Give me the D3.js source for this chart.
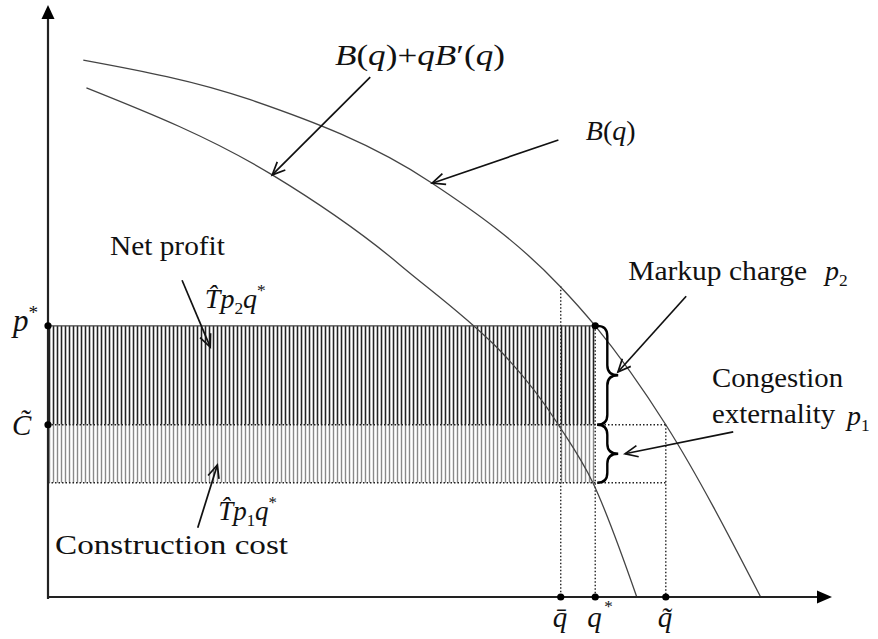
<!DOCTYPE html>
<html>
<head>
<meta charset="utf-8">
<script src="https://cdn.jsdelivr.net/npm/d3@7"></script>
<style>
body { margin: 0; background: #fff; }
text { font-family: "Liberation Serif", "Times New Roman", serif; fill: #111; }
.m { font-style: italic; }
</style>
</head>
<body>
<div id="chart"></div>
<script>
// curves: [q, price]
var bCurve = [[0.45, 9.07], [2.58, 8.40], [4.90, 6.99], [6.53, 5.25], [6.98, 4.58], [7.88, 2.91], [9.09, 0]]
var mrCurve = [[0.49, 8.60], [2.86, 7.13], [4.49, 5.61], [6.51, 2.91], [6.95, 1.93], [7.51, 0]]

// quantities on the q axis
var qLabels = ["q\u0304", "q", "q\u0303"]
var qValues = [6.54, 6.98, 7.88]
var qStar = 6.98, qBar = 6.54, qTilde = 7.88

// price levels
var pStar = 4.58, cTilde = 2.91, pLow = 1.93, bAtQBar = 5.25

var width = 878, height = 639

var svg = d3.select("#chart").append("svg")
    .attr("width", width)
    .attr("height", height)

var x = d3.scaleLinear().domain([0, 10]).range([48, 832])
var y = d3.scaleLinear().domain([0, 10]).range([597, 5])

var defs = svg.append("defs")
function hatch(id, color, w) {
    var p = defs.append("pattern")
        .attr("id", id)
        .attr("patternUnits", "userSpaceOnUse")
        .attr("x", x(0))
        .attr("width", 4)
        .attr("height", 10)
    p.append("line")
        .attr("x1", 1.5).attr("x2", 1.5)
        .attr("y1", 0).attr("y2", 10)
        .attr("stroke", color)
        .attr("stroke-width", w)
}
hatch("dark", "#222", 1.6)
hatch("light", "#8a8a8a", 1.4)

// hatched areas
svg.append("rect")
    .attr("x", x(0)).attr("y", y(pStar))
    .attr("width", x(qStar) - x(0))
    .attr("height", y(cTilde) - y(pStar))
    .attr("fill", "url(#dark)")
svg.append("rect")
    .attr("x", x(0)).attr("y", y(cTilde))
    .attr("width", x(qStar) - x(0))
    .attr("height", y(pLow) - y(cTilde))
    .attr("fill", "url(#light)")

// solid top edge
svg.append("line")
    .attr("x1", x(0)).attr("x2", x(qStar))
    .attr("y1", y(pStar)).attr("y2", y(pStar))
    .attr("stroke", "#444").attr("stroke-width", 1.4)

// dotted guides
function dotted(x1, y1, x2, y2) {
    svg.append("line")
        .attr("x1", x(x1)).attr("y1", y(y1))
        .attr("x2", x(x2)).attr("y2", y(y2))
        .attr("stroke", "#222")
        .attr("stroke-width", 1.4)
        .attr("stroke-dasharray", "1.5,2")
}
dotted(0, cTilde, qTilde, cTilde)
dotted(0, pLow, qTilde, pLow)
dotted(qBar, bAtQBar, qBar, 0)
dotted(qStar, pStar, qStar, 0)
dotted(qTilde, cTilde, qTilde, 0)

// curves
var line = d3.line()
    .x(d => x(d[0]))
    .y(d => y(d[1]))
    .curve(d3.curveMonotoneX)

svg.append("path").datum(bCurve)
    .attr("d", line)
    .attr("fill", "none").attr("stroke", "#444").attr("stroke-width", 1.3)
svg.append("path").datum(mrCurve)
    .attr("d", line)
    .attr("fill", "none").attr("stroke", "#444").attr("stroke-width", 1.3)

// axes
svg.append("line")
    .attr("x1", x(0)).attr("y1", y(0))
    .attr("x2", x(10) - 10).attr("y2", y(0))
    .attr("stroke", "#222").attr("stroke-width", 2.2)
svg.append("line")
    .attr("x1", x(0)).attr("y1", y(0) + 2)
    .attr("x2", x(0)).attr("y2", y(10) + 10)
    .attr("stroke", "#222").attr("stroke-width", 2.2)
svg.append("path")
    .attr("d", "M" + x(10) + "," + y(0) + "L" + (x(10) - 15) + "," + (y(0) - 6.5) + "L" + (x(10) - 15) + "," + (y(0) + 6.5) + "Z")
    .attr("fill", "#000")
svg.append("path")
    .attr("d", "M" + x(0) + "," + y(10) + "L" + (x(0) - 6.5) + "," + (y(10) + 14) + "L" + (x(0) + 6.5) + "," + (y(10) + 14) + "Z")
    .attr("fill", "#000")

// dots
var dots = [[0, pStar], [0, cTilde], [qStar, pStar]].concat(qValues.map(q => [q, 0]))
svg.selectAll(".dot").data(dots).enter().append("circle")
    .attr("class", "dot")
    .attr("cx", d => x(d[0])).attr("cy", d => y(d[1]))
    .attr("r", 3.6)
    .attr("fill", "#000")

// braces
function brace(x0, y0, y1, w) {
    var xm = x0 + w * 0.48, xt = x0 + w, ym = (y0 + y1) / 2, r = w * 0.48
    return "M" + x0 + "," + y0 + " Q" + xm + "," + y0 + " " + xm + "," + (y0 + r) +
        " L" + xm + "," + (ym - r) + " Q" + xm + "," + ym + " " + xt + "," + ym +
        " Q" + xm + "," + ym + " " + xm + "," + (ym + r) +
        " L" + xm + "," + (y1 - r) + " Q" + xm + "," + y1 + " " + x0 + "," + y1
}
svg.append("path")
    .attr("d", brace(x(qStar) + 2, y(pStar), y(cTilde), 21))
    .attr("fill", "none").attr("stroke", "#000").attr("stroke-width", 2.4)
svg.append("path")
    .attr("d", brace(x(qStar) + 2, y(cTilde), y(pLow), 21))
    .attr("fill", "none").attr("stroke", "#000").attr("stroke-width", 2.4)

// arrows pointing at things
function arrow(q1, p1, q2, p2) {
    var x1 = x(q1), y1 = y(p1), x2 = x(q2), y2 = y(p2)
    var a = Math.atan2(y2 - y1, x2 - x1), L = 14, s = 0.42
    svg.append("line")
        .attr("x1", x1).attr("y1", y1).attr("x2", x2).attr("y2", y2)
        .attr("stroke", "#111").attr("stroke-width", 1.7)
    svg.append("path")
        .attr("d", "M" + (x2 - L * Math.cos(a - s)) + "," + (y2 - L * Math.sin(a - s)) +
            "L" + x2 + "," + y2 +
            "L" + (x2 - L * Math.cos(a + s)) + "," + (y2 - L * Math.sin(a + s)))
        .attr("fill", "none").attr("stroke", "#111").attr("stroke-width", 1.7)
}
arrow(1.71, 5.35, 2.07, 4.22)
arrow(1.91, 1.17, 2.16, 2.23)
arrow(4.11, 8.78, 2.86, 7.13)
arrow(6.51, 7.72, 4.90, 6.99)
arrow(8.14, 5.08, 7.27, 3.80)
arrow(8.74, 2.79, 7.36, 2.42)

// text labels
function label(px, py, size, parts, len) {
    var t = svg.append("text")
        .attr("x", px).attr("y", py)
        .style("font-size", size + "px")
    if (len) t.attr("textLength", len).attr("lengthAdjust", "spacingAndGlyphs")
    parts.forEach(function (p) {
        var s = t.append("tspan").text(p[0])
        if (p[1] == "i") s.attr("class", "m")
        if (p[1] == "sub") s.attr("dy", 6).style("font-size", (size * 0.62) + "px")
        if (p[1] == "sup") s.attr("dy", -12).style("font-size", (size * 0.62) + "px")
        if (p[2]) s.attr("dy", p[2])
    })
    return t
}

label(x(3.66), y(8.99), 29, [["B", "i"], ["("], ["q", "i"], [")+"], ["qB", "i"], ["\u2032("], ["q", "i"], [")"]], 170)
label(x(6.86), y(7.72), 28, [["B", "i"], ["("], ["q", "i"], [")"]])
label(x(0.79), y(5.78), 28, [["Net profit"]], 115)
label(x(2.00), y(4.88), 28, [["T\u0302", "i"], ["p", "i"], ["2", "sub"], ["q", "i", -6], ["*", "sup"]])
label(x(2.17), y(1.30), 27, [["T\u0302", "i"], ["p", "i"], ["1", "sub"], ["q", "i", -6], ["*", "sup"]])
label(x(0.09), y(0.72), 28, [["Construction cost"]], 233)
label(x(7.40), y(5.35), 28, [["Markup charge"]], 179)
label(x(9.91), y(5.35), 28, [["p", "i"], ["2", "sub"]])
label(x(8.47), y(3.55), 28, [["Congestion"]], 131)
label(x(8.47), y(2.94), 28, [["externality"]], 123)
label(x(10.19), y(2.91), 28, [["p", "i"], ["1", "sub"]])

// vertical axis labels
label(13, y(pStar) + 5, 31, [["p", "i"], ["*", "sup"]])
label(12, y(cTilde) + 10, 29, [["C\u0303", "i"]])

// horizontal axis labels
svg.selectAll(".qlab").data(qLabels).enter().append("text")
    .attr("class", "qlab m")
    .attr("x", (d, i) => x(qValues[i]) - 8)
    .attr("y", 627)
    .style("font-size", "29px")
    .text(d => d)
svg.append("text")
    .attr("x", x(qStar) + 9).attr("y", 612)
    .style("font-size", "17px")
    .text("*")
</script>
</body>
</html>
